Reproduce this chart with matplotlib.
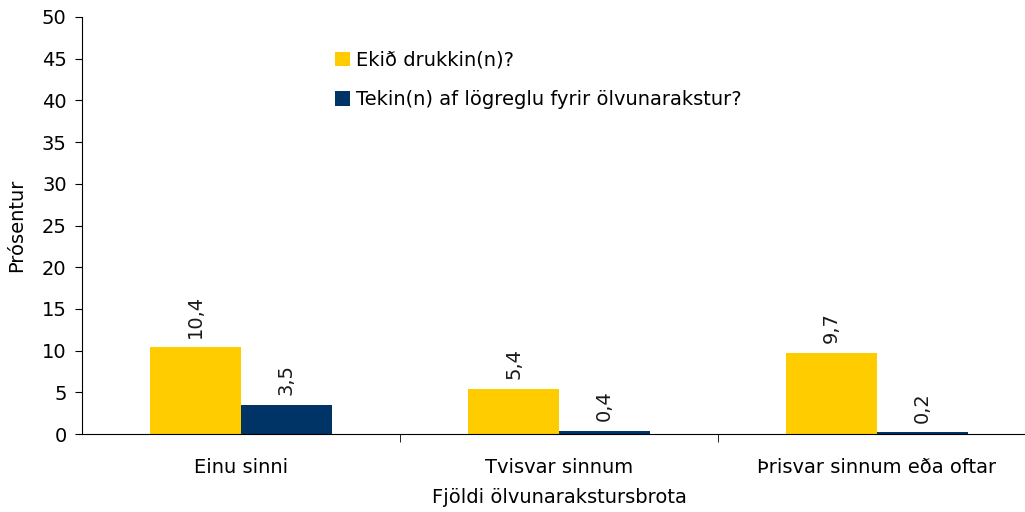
import numpy as np
from matplotlib import pyplot as plt

categories = ["Einu sinni", "Tvisvar sinnum", "Þrisvar sinnum eða oftar"]
ekid_drukkin = [10.4, 5.4, 9.7]
tekin = [3.5, 0.4, 0.2]
series_names = ["Ekið drukkin(n)?", "Tekin(n) af lögreglu fyrir ölvunarakstur?"]

plt.rcParams['font.family'] = ['DejaVu Sans']
plt.rcParams['font.size'] = 14

fig = plt.figure(figsize=(10.25, 5.12), dpi=100)
ax = fig.add_axes([0.08, 0.1523, 0.9307, 0.8145])

x = np.arange(len(categories))
w = 0.286
b1 = ax.bar(x - w / 2, ekid_drukkin, w, color='#FFCC00', label=series_names[0])
b2 = ax.bar(x + w / 2, tekin, w, color='#003366', label=series_names[1])

# data labels, rotated like the original
for bars, vals in [(b1, ekid_drukkin), (b2, tekin)]:
    for bar, v in zip(bars, vals):
        ax.annotate(f"{v:.1f}".replace('.', ','),
                    (bar.get_x() + bar.get_width() / 2, bar.get_height()),
                    xytext=(0, 7), textcoords='offset points',
                    rotation=90, ha='center', va='bottom', fontsize=14, color='#1a1a1a')

ax.set_xlim(-0.5, 2.5)
ax.set_ylim(0, 50)
ax.set_yticks(range(0, 51, 5))
ax.set_xticks(x)
ax.set_xticklabels(categories)
ax.set_xticks([0.5, 1.5], minor=True)
ax.tick_params(axis='x', which='major', length=0, pad=17)
ax.tick_params(axis='x', which='minor', length=6, direction='out')
ax.tick_params(axis='y', length=5, direction='out', pad=6)

for s in ['top', 'right']:
    ax.spines[s].set_visible(False)

ax.set_ylabel("Prósentur", labelpad=11)
ax.set_xlabel("Fjöldi ölvunarakstursbrota", labelpad=8)

ax.legend(loc='upper left', bbox_to_anchor=(0.31, 0.935), bbox_transform=fig.transFigure,
          frameon=False, handlelength=0.75, handleheight=0.75, handletextpad=0.3,
          labelspacing=1.05, fontsize=14)

fig.savefig("out.png", dpi=100)
